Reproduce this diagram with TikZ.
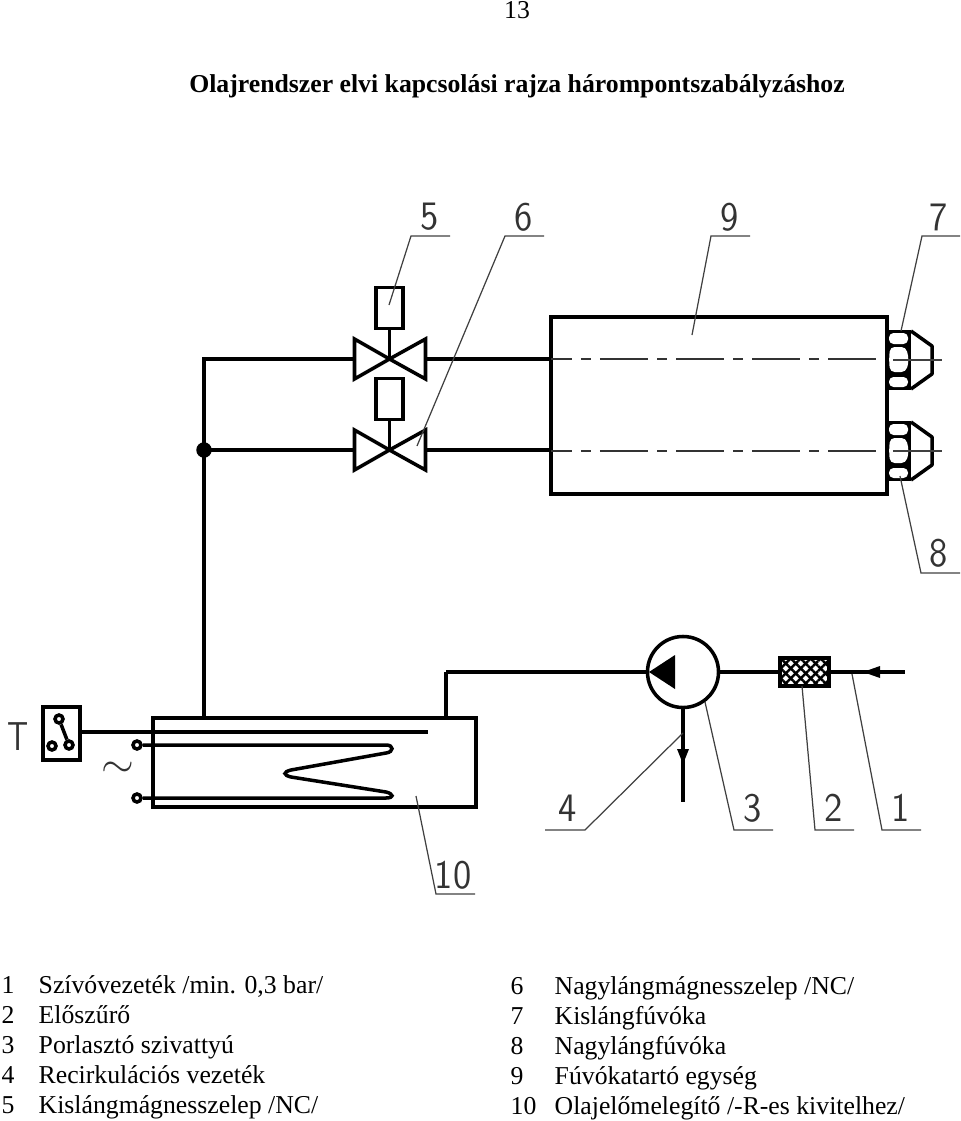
\documentclass[tikz,border=0pt]{standalone}
\usepackage{fontspec}
\setmainfont{Liberation Serif}
\usetikzlibrary{patterns.meta,arrows.meta}
\tikzset{
	pipe/.style={line width=1pt},
	leader/.style={line width=0.35pt,black!75},
	axisline/.style={line width=0.5pt,black!80,dash pattern=on 13.66pt off 2.56pt on 2.85pt off 2.56pt,dash phase=7.7pt},
	part/.style={draw,line width=1pt,inner sep=0,outer sep=0},
	contactdot/.style={draw,circle,line width=1pt,inner sep=0,minimum size=0.08cm,fill=white},
	num/.style={black!80,inner sep=0,font=\sffamily\fontsize{11.5pt}{12pt}\selectfont,xscale=0.92},
	item/.style={anchor=base west,inner sep=0,font=\fontsize{7.32pt}{8pt}\selectfont},
}
\begin{document}
\begin{tikzpicture}[x=0.01cm,y=-0.01cm]
	\useasboundingbox (0,0) rectangle (960,1121);
	% heading
	\node[inner sep=0,font=\fontsize{7.32pt}{8pt}\selectfont] (page) at (517,10) {13};
	\node[inner sep=0,font=\bfseries\fontsize{7.32pt}{8pt}\selectfont] (title) at (517,86.5) {Olajrendszer elvi kapcsolási rajza hárompontszabályzáshoz};
	% valves
	\node[part,minimum width=0.27cm,minimum height=0.41cm] (box5) at (389.5,308) {};
	\node[part,minimum width=0.27cm,minimum height=0.41cm] (box6) at (389.5,399) {};
	\coordinate (v5) at (389.5,359);
	\coordinate (v6) at (389.5,450);
	\foreach \v in {v5,v6} {
		\draw[pipe,line join=miter] (\v) -- ++(-35,-20) -- ++(0,40) -- cycle;
		\draw[pipe,line join=miter] (\v) -- ++(36,-20) -- ++(0,40) -- cycle;
	}
	\draw[pipe] (box5.south) -- (v5);
	\draw[pipe] (box6.south) -- (v6);
	% burner block
	\node[part,minimum width=3.36cm,minimum height=1.77cm] (block) at (719,405.5) {};
	\coordinate (junction) at (204,450);
	\coordinate (corner) at (204,359);
	\draw[pipe] (354,359) -- (corner) -- (204,717);
	\draw[pipe] (354,450) -- (junction);
	\draw[pipe] (425,359) -- (551,359);
	\draw[pipe] (425,450) -- (551,450);
	\filldraw (junction) circle (7);
	\draw[axisline] (551,359) -- (878,359);
	\draw[axisline] (551,451) -- (878,451);
	% nozzles
	\foreach \n/\y in {n7/360,n8/451} {
		\coordinate (\n) at (887,\y);
		\fill (\n) ++(0,-30) rectangle ++(24,60);
		\draw[pipe,line join=round] (\n) ++(24,-29) -- ++(21,15) -- ++(0,28) -- ++(-21,15);
		\fill[white,rounded corners=1.3pt] (\n) ++(2,-27) rectangle ++(19,11);
		\fill[white,rounded corners=1.3pt] (\n) ++(2,17) rectangle ++(19,10);
		\fill[white,rounded corners=1.3pt] (\n) ++(3,-13) -- ++(16,0) -- ++(3,13) -- ++(-3,12) -- ++(-16,0) -- ++(-1,-12) -- cycle;
		\draw[leader] (\n) ++(6,0) -- ++(49,0);
	}
	% tank with heater
	\node[part,minimum width=3.23cm,minimum height=0.89cm] (tank) at (314.5,762.5) {};
	\node[part,minimum width=0.37cm,minimum height=0.53cm] (switch) at (61.5,733.5) {};
	\coordinate (sensorend) at (428,732);
	\draw[pipe] (switch.east |- sensorend) -- (sensorend);
	\node[contactdot] (contact) at (59,719) {};
	\node[contactdot] (contactA) at (52,746) {};
	\node[contactdot] (contactB) at (69,745) {};
	\draw[pipe] (contact) -- (contactB);
	\node[contactdot] (term1) at (137,745) {};
	\node[contactdot] (term2) at (137,798) {};
	\draw[pipe] (term1) -- (386,745) .. controls (394,745) and (394,752) .. (386,753) -- (291,770)
		.. controls (283,772) and (283,775) .. (291,777) -- (386,792) .. controls (394,794) and (394,798) .. (386,798) -- (term2);
	\node[inner sep=0,black!80,font=\fontsize{12pt}{12pt}\selectfont] (tilde) at (118,770) {$\sim$};
	\node[num,xscale=0.85] (T) at (18,737) {T};
	% pump and filter
	\node[part,circle,minimum size=0.71cm] (pump) at (683,672) {};
	\node[part,minimum width=0.49cm,minimum height=0.28cm,fill=white,
		postaction={pattern={Lines[angle=45,distance=2pt,line width=0.7pt]}},
		postaction={pattern={Lines[angle=-45,distance=2pt,line width=0.7pt]}}] (filter) at (804.5,672) {};
	\coordinate (inlet) at (905,672);
	\coordinate (outlet) at (683,802);
	\coordinate (tankin) at (446,672);
	\fill (649,672) -- (675,655) -- (675,689) -- cycle;
	\draw[pipe] (tankin) -- (pump.west);
	\draw[pipe] (tankin) -- (tank.north -| tankin);
	\draw[pipe] (pump.east) -- (filter.west);
	\draw[pipe] (filter.east) -- (inlet);
	\draw[pipe] (pump.south) -- (outlet);
	\fill (863,672) -- (880,666) -- (880,678) -- cycle;
	\fill (683,764) -- (677,749) -- (689,749) -- cycle;
	% leaders
	\draw[leader] (389,305) -- (411,236) -- (450,236);
	\draw[leader] (417,446) -- (505,236) -- (544,236);
	\draw[leader] (692,335) -- (711,236) -- (750,236);
	\draw[leader] (901,331) -- (922,236) -- (960,236);
	\draw[leader] (900,476) -- (921,573) -- (960,573);
	\draw[leader] (683,733) -- (585,830) -- (545,830);
	\draw[leader] (705,702) -- (734,830) -- (773,830);
	\draw[leader] (802,686) -- (815,830) -- (854,830);
	\draw[leader] (852,674) -- (882,830) -- (921,830);
	\draw[leader] (416,796) -- (436,894) -- (475,894);
	\foreach \n/\x/\y in {5/430/217,6/524/217,9/730/217,7/939/217,8/939/553,4/568/808,3/753/808,2/834/808,1/901/808,10/453/875}
		\node[num] (lab\n) at (\x,\y) {\n};
	% legend
	\foreach \n/\txt [count=\i] in {1/{Szívóvezeték /min. 0,3 bar/},2/{Előszűrő},3/{Porlasztó szivattyú},4/{Recirkulációs vezeték},5/{Kislángmágnesszelep /NC/}} {
		\node[item] (num\n) at (1,963+30*\i) {\n};
		\node[item] (txt\n) at (38,963+30*\i) {\txt};
	}
	\foreach \n/\txt [count=\i] in {6/{Nagylángmágnesszelep /NC/},7/{Kislángfúvóka},8/{Nagylángfúvóka},9/{Fúvókatartó egység},10/{Olajelőmelegítő /-R-es kivitelhez/}} {
		\node[item] (num\n) at (510,964+30*\i) {\n};
		\node[item] (txt\n) at (554,964+30*\i) {\txt};
	}
\end{tikzpicture}
\end{document}
